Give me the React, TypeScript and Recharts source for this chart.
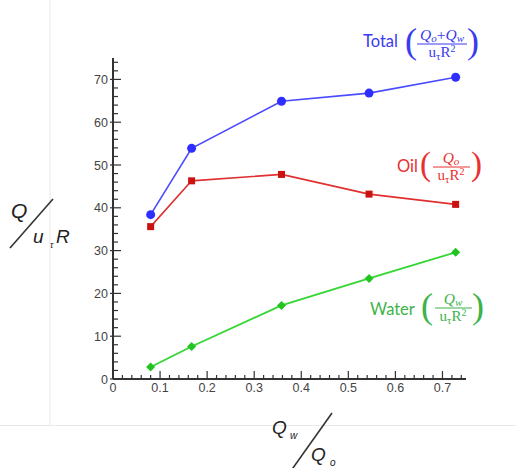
import React from "react";
import { LineChart, Line, XAxis, YAxis } from "recharts";

// flow-rate ratio Qw/Qo
const qRatio = [0.08, 0.167, 0.358, 0.544, 0.728];
// normalised flow rates
const totalFlow = [38.4, 53.9, 64.9, 66.8, 70.5];
const oilFlow = [35.6, 46.3, 47.8, 43.2, 40.8];
const waterFlow = [2.8, 7.6, 17.2, 23.5, 29.6];

const xMajorTicks = [0, 0.1, 0.2, 0.3, 0.4, 0.5, 0.6, 0.7];
const yMajorTicks = [0, 10, 20, 30, 40, 50, 60, 70];
const xAllTicks = Array.from({ length: 38 }, (_, i) => Math.round(i * 2) / 100);
const yAllTicks = Array.from({ length: 38 }, (_, i) => i * 2);

const data = qRatio.map((r, i) => ({
    ratio: r,
    total: totalFlow[i],
    oil: oilFlow[i],
    water: waterFlow[i],
}));

const tickFont = { fontFamily: "'Liberation Sans', Arial, sans-serif", fontSize: 12.5, fill: "#444" };
const isIn = (list: number[], v: number) => list.some((t) => Math.abs(t - v) < 1e-6);

const XTick = (props: any) => {
    const { x, y, payload } = props;
    const major = isIn(xMajorTicks, payload.value);
    return (
        <g>
            <line x1={x} x2={x} y1={y} y2={y - (major ? 8 : 4)} stroke="#333" strokeWidth={1.2} />
            {major && (
                <text x={x} y={y + 13} textAnchor="middle" {...tickFont}>
                    {String(payload.value)}
                </text>
            )}
        </g>
    );
};

const YTick = (props: any) => {
    const { x, y, payload } = props;
    const major = isIn(yMajorTicks, payload.value);
    return (
        <g>
            <line x1={major ? x - 3 : x} x2={x + (major ? 8 : 5)} y1={y} y2={y} stroke="#333" strokeWidth={1.2} />
            {major && (
                <text x={x - 5} y={y + 4.5} textAnchor="end" {...tickFont}>
                    {String(payload.value)}
                </text>
            )}
        </g>
    );
};

const SquareDot = (props: any) => {
    const { cx, cy, index } = props;
    return <rect key={index} x={cx - 3.5} y={cy - 3.5} width={7} height={7} fill="#cc1111" />;
};

const DiamondDot = (props: any) => {
    const { cx, cy, index } = props;
    return (
        <polygon
            key={index}
            points={`${cx},${cy - 4.5} ${cx + 4.5},${cy} ${cx},${cy + 4.5} ${cx - 4.5},${cy}`}
            fill="#22c422"
        />
    );
};

const serif = "'Liberation Serif', 'DejaVu Serif', serif";
const word = "Lato, 'Open Sans', sans-serif";

function Frac({ cx, lineY, x1, x2, num, den, color }: any) {
    return (
        <g fill={color} fontFamily={serif}>
            <text x={cx} y={lineY - 4} textAnchor="middle" fontSize={15.5}>{num}</text>
            <line x1={x1} x2={x2} y1={lineY} y2={lineY} stroke={color} strokeWidth={1} />
            <text x={cx} y={lineY + 13} textAnchor="middle" fontSize={15}>{den}</text>
        </g>
    );
}

const denom = (
    <>
        u<tspan fontSize={11} dy={3}>τ</tspan>
        <tspan dy={-3}>R</tspan>
        <tspan fontSize={10} dy={-5}>2</tspan>
    </>
);

const sub = (s: string) => (
    <>
        <tspan fontStyle="italic">Q</tspan>
        <tspan fontStyle="italic" fontSize={11} dy={2}>{s}</tspan>
    </>
);

function Annotations() {
    const blue = "#3a3aef";
    const red = "#e83030";
    const green = "#3db34a";
    return (
        <svg width={516} height={468} style={{ position: "absolute", left: 0, top: 0, pointerEvents: "none" }}>
            {/* faint page edges */}
            <line x1={50} x2={50} y1={0} y2={425} stroke="#e8e8e8" strokeWidth={1} />
            <line x1={0} x2={516} y1={425.5} y2={425.5} stroke="#e8e8e8" strokeWidth={1} />

            {/* Total */}
            <text x={363} y={47} fill={blue} fontFamily={word} fontSize={16.5}>Total</text>
            <text x={405} y={53} fill={blue} fontFamily={serif} fontSize={36}>(</text>
            <Frac
                cx={442}
                lineY={44}
                x1={417}
                x2={467}
                color={blue}
                num={
                    <>
                        {sub("o")}
                        <tspan dy={-2}>+</tspan>
                        {sub("w")}
                    </>
                }
                den={denom}
            />
            <text x={467} y={53} fill={blue} fontFamily={serif} fontSize={36}>)</text>

            {/* Oil */}
            <text x={397} y={172} fill={red} fontFamily={word} fontSize={16.5}>Oil</text>
            <text x={420} y={175} fill={red} fontFamily={serif} fontSize={33}>(</text>
            <Frac cx={451} lineY={167} x1={433} x2={470} color={red} num={sub("o")} den={denom} />
            <text x={471} y={175} fill={red} fontFamily={serif} fontSize={33}>)</text>

            {/* Water */}
            <text x={370} y={315} fill={green} fontFamily={word} fontSize={16.5}>Water</text>
            <text x={421} y={318} fill={green} fontFamily={serif} fontSize={36}>(</text>
            <Frac cx={453} lineY={308} x1={435} x2={472} color={green} num={sub("w")} den={denom} />
            <text x={472} y={318} fill={green} fontFamily={serif} fontSize={36}>)</text>

            {/* y-axis title */}
            <g fill="#222" fontFamily="'Liberation Sans', Arial, sans-serif" fontStyle="italic">
                <text x={11} y={218} fontSize={21}>Q</text>
                <line x1={10} y1={248} x2={53} y2={199} stroke="#333" strokeWidth={1.6} />
                <text x={33} y={243} fontSize={19}>u</text>
                <text x={50} y={248} fontSize={9}>τ</text>
                <text x={56} y={243} fontSize={19}>R</text>
            </g>

            {/* x-axis title */}
            <g fill="#222" fontFamily="'Liberation Sans', Arial, sans-serif" fontStyle="italic">
                <text x={272} y={434} fontSize={19}>Q</text>
                <text x={290} y={439} fontSize={10}>w</text>
                <line x1={288} y1={475} x2={332} y2={413} stroke="#333" strokeWidth={1.6} />
                <text x={311} y={461} fontSize={19}>Q</text>
                <text x={330} y={466} fontSize={10}>o</text>
            </g>
        </svg>
    );
}

export default function App() {
    return (
        <div style={{ position: "absolute", left: 0, top: 0, width: 516, height: 468, background: "#fff" }}>
            <LineChart width={516} height={468} data={data} margin={{ top: 58, right: 50, left: 73, bottom: 59 }}>
                <XAxis
                    type="number"
                    dataKey="ratio"
                    domain={[0, 0.75]}
                    ticks={xAllTicks}
                    interval={0}
                    allowDataOverflow
                    height={30}
                    tickSize={0}
                    tickMargin={0}
                    tickLine={false}
                    tick={<XTick />}
                    axisLine={{ stroke: "#333", strokeWidth: 2 }}
                />
                <YAxis
                    type="number"
                    domain={[0, 75]}
                    ticks={yAllTicks}
                    interval={0}
                    allowDataOverflow
                    width={40}
                    tickSize={0}
                    tickMargin={0}
                    tickLine={false}
                    tick={<YTick />}
                    axisLine={{ stroke: "#333", strokeWidth: 2 }}
                />
                <Line
                    dataKey="total"
                    stroke="#4a4aff"
                    strokeWidth={1.6}
                    dot={{ r: 4.5, fill: "#2e2eff", stroke: "#2e2eff", strokeWidth: 0 }}
                    isAnimationActive={false}
                />
                <Line
                    dataKey="oil"
                    stroke="#e03030"
                    strokeWidth={1.6}
                    dot={<SquareDot />}
                    isAnimationActive={false}
                />
                <Line
                    dataKey="water"
                    stroke="#33d633"
                    strokeWidth={1.8}
                    dot={<DiamondDot />}
                    isAnimationActive={false}
                />
            </LineChart>
            <Annotations />
        </div>
    );
}
